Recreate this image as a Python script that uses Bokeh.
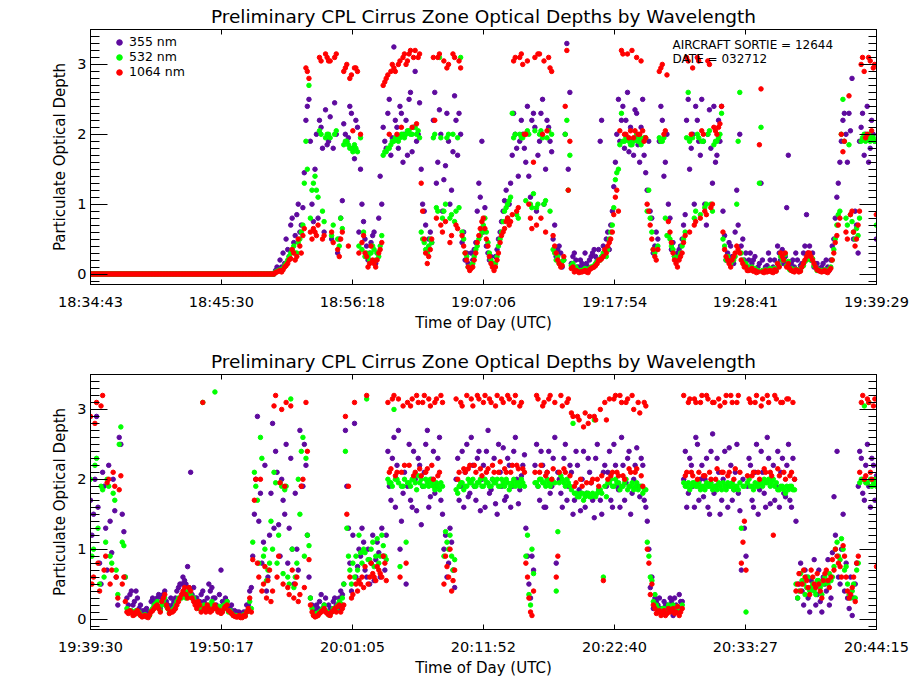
from bokeh.plotting import figure
from bokeh.layouts import column
from bokeh.models import (Range1d, LinearAxis, FixedTicker, SingleIntervalTicker,
                          Legend, LegendItem, Label)
from bokeh.embed import file_html
from bokeh.resources import INLINE

FONT = "DejaVu Sans"
TITLE = "Preliminary CPL Cirrus Zone Optical Depths by Wavelength"
C355, C532, C1064 = "#5e0a9e", "#00ff00", "#ff0000"

# sample offsets in seconds from the start of each leg (two interleaved sets)
sec = [0, 15, 30, 45, 60, 75, 90, 105, 120, 135, 150, 165, 180, 195, 210, 225, 240, 255, 270, 285,
       300, 315, 330, 345, 360, 375, 390, 405, 420, 435, 450, 465, 480, 495, 510, 525, 540, 555, 570, 585,
       600, 615, 630, 645, 660, 675, 690, 705, 720, 735, 750, 765, 780, 795, 810, 825, 840, 855, 870, 885,
       900, 915, 930, 945, 960, 975, 990, 1005, 1020, 1035, 1050, 1065, 1080, 1095, 1110, 1125, 1140, 1155, 1170, 1185,
       1200, 1215, 1230, 1245, 1260, 1275, 1290, 1305, 1320, 1335, 1350, 1365, 1380, 1395, 1410, 1425, 1440, 1455, 1470, 1485,
       1500, 1515, 1530, 1545, 1560, 1575, 1590, 1605, 1620, 1635, 1650, 1665, 1680, 1695, 1710, 1725, 1740, 1755, 1770, 1785,
       1800, 1815, 1830, 1845, 1860, 1875, 1890, 1905, 1920, 1935, 1950, 1965, 1980, 1995, 2010, 2025, 2040, 2055, 2070, 2085,
       2100, 2115, 2130, 2145, 2160, 2175, 2190, 2205, 2220, 2235, 2250, 2265, 2280, 2295, 2310, 2325, 2340, 2355, 2370, 2385,
       2400, 2415, 2430, 2445, 2460, 2475, 2490, 2505, 2520, 2535, 2550, 2565, 2580, 2595, 2610, 2625, 2640, 2655, 2670, 2685,
       2700, 2715, 2730, 2745, 2760, 2775, 2790, 2805, 2820, 2835, 2850, 2865, 2880, 2895, 2910, 2925, 2940, 2955, 2970, 2985,
       3000, 3015, 3030, 3045, 3060, 3075, 3090, 3105, 3120, 3135, 3150, 3165, 3180, 3195, 3210, 3225, 3240, 3255, 3270, 3285,
       3300, 3315, 3330, 3345, 3360, 3375, 3390, 3405, 3420, 3435, 3450, 3465, 3480, 3495, 3510, 3525, 3540, 3555, 3570, 3585,
       3600, 3615, 3630, 3645, 3660, 3675, 3690, 3705, 3720, 3735, 3750, 3765, 3780, 3795, 3810, 3825, 3840, 3855, 3870, 3885]

sec_b = [7, 22, 37, 52, 67, 82, 97, 112, 127, 142, 157, 172, 187, 202, 217, 232, 247, 262, 277, 292,
         307, 322, 337, 352, 367, 382, 397, 412, 427, 442, 457, 472, 487, 502, 517, 532, 547, 562, 577, 592,
         607, 622, 637, 652, 667, 682, 697, 712, 727, 742, 757, 772, 787, 802, 817, 832, 847, 862, 877, 892,
         907, 922, 937, 952, 967, 982, 997, 1012, 1027, 1042, 1057, 1072, 1087, 1102, 1117, 1132, 1147, 1162, 1177, 1192,
         1207, 1222, 1237, 1252, 1267, 1282, 1297, 1312, 1327, 1342, 1357, 1372, 1387, 1402, 1417, 1432, 1447, 1462, 1477, 1492,
         1507, 1522, 1537, 1552, 1567, 1582, 1597, 1612, 1627, 1642, 1657, 1672, 1687, 1702, 1717, 1732, 1747, 1762, 1777, 1792,
         1807, 1822, 1837, 1852, 1867, 1882, 1897, 1912, 1927, 1942, 1957, 1972, 1987, 2002, 2017, 2032, 2047, 2062, 2077, 2092,
         2107, 2122, 2137, 2152, 2167, 2182, 2197, 2212, 2227, 2242, 2257, 2272, 2287, 2302, 2317, 2332, 2347, 2362, 2377, 2392,
         2407, 2422, 2437, 2452, 2467, 2482, 2497, 2512, 2527, 2542, 2557, 2572, 2587, 2602, 2617, 2632, 2647, 2662, 2677, 2692,
         2707, 2722, 2737, 2752, 2767, 2782, 2797, 2812, 2827, 2842, 2857, 2872, 2887, 2902, 2917, 2932, 2947, 2962, 2977, 2992,
         3007, 3022, 3037, 3052, 3067, 3082, 3097, 3112, 3127, 3142, 3157, 3172, 3187, 3202, 3217, 3232, 3247, 3262, 3277, 3292,
         3307, 3322, 3337, 3352, 3367, 3382, 3397, 3412, 3427, 3442, 3457, 3472, 3487, 3502, 3517, 3532, 3547, 3562, 3577, 3592,
         3607, 3622, 3637, 3652, 3667, 3682, 3697, 3712, 3727, 3742, 3757, 3772, 3787, 3802, 3817, 3832, 3847, 3862, 3877]

# ---- leg 1: 18:34:43 - 19:39:29
top_ticks = [0, 647, 1295, 1943, 2591, 3238, 3886]
top_tick_labels = ["18:34:43", "18:45:30", "18:56:18", "19:07:06", "19:17:54", "19:28:41", "19:39:29"]

top_1064 = [0, 0, 0, 0, 0, 0, 0, 0, 0, 0, 0, 0, 0, 0, 0, 0, 0, 0, 0, 0,
            0, 0, 0, 0, 0, 0, 0, 0, 0, 0, 0, 0, 0, 0, 0, 0, 0, 0, 0, 0,
            0, 0, 0, 0, 0, 0, 0, 0, 0, 0, 0, 0, 0, 0, 0, 0, 0, 0, 0, 0, 0,
            0.02, 0.04, 0.03, 0.1, 0.15, 0.22, 0.3, 0.25, 0.4, 0.55,
            2.95, 2.8, 0.5, 0.6, 0.7, 3.05, 0.55, 3.1, 3.05, 0.45,
            3.15, 0.25, 0.6, 2.95, 0.4, 2.85, 2.95, 2.9, 2.0, 0.55,
            0.25, 0.15, 0.2, 0.1, 0.3, 0.45, 2.75, 2.85, 2.9, 2.95,
            2.0, 3.05, 3.1, 3.0, 3.15, 2.1, 3.2, 3.1, 1.3, 0.5,
            0.15, 0.35, 3.1, 0.8, 3.15, 0.6, 0.75, 3.0, 0.55, 3.1,
            0.65, 2.95, 0.4, 0.2, 0.05, 0.1, 0.3, 0.55, 0.75, 0.65,
            0.4, 0.15, 0.05, 0.2, 0.45, 0.6, 0.75, 0.7, 0.85, 3.1,
            0.95, 3.15, 2.0, 3.05, 0.8, 1.6, 0.7, 3.15, 2.0, 0.6,
            3.1, 2.9, 0.4, 0.2, 0.1, 0.25, 3.2, 1.9, 0.1, 0.05,
            0.02, 0.03, 0.05, 0.02, 0.08, 0.1, 0.15, 0.2, 0.25, 0.3,
            0.45, 0.6, 1.1, 0.9, 3.2, 2.0, 3.15, 2.05, 1.95, 3.1,
            2.0, 2.05, 1.95, 0.9, 0.5, 0.25, 0.35, 2.95, 2.0, 2.85,
            0.6, 0.3, 0.15, 0.2, 0.3, 0.55, 3.05, 2.0, 0.7, 3.1,
            0.8, 2.0, 0.85, 3.0, 1.0, 2.05, 2.1, 2.4, 0.35, 0.2,
            0.1, 0.25, 0.4, 0.3, 0.15, 0.1, 0.05, 0.08, 0.05, 0.03,
            2.65, 0.02, 0.03, 0.05, 0.02, 0.04, 0.1, 0.25, 0.3, 0.15,
            0.05, 0.03, 0.05, 0.04, 0.15, 0.25, 0.3, 0.2, 0.1, 0.05,
            0.03, 0.05, 0.02, 0.08, 0.3, 0.55, 0.8, 1.75, 0.6, 2.55,
            0.9, 0.4, 0.7, 3.0, 2.9, 2.0, 3.05, 2.95, 0.85]

top_1064_b = [0, 0, 0, 0, 0, 0, 0, 0, 0, 0, 0, 0, 0, 0, 0, 0, 0, 0, 0, 0,
              0, 0, 0, 0, 0, 0, 0, 0, 0, 0, 0, 0, 0, 0, 0, 0, 0, 0, 0, 0,
              0, 0, 0, 0, 0, 0, 0, 0, 0, 0, 0, 0, 0, 0, 0, 0, 0, 0, 0, 0, 0,
              0.03, 0.05, 0.06, 0.12, 0.2, 0.35, 0.2, 0.5, 0.3, 0.65,
              2.9, 0.6, 0.65, 0.55, 3.1, 0.5, 3.15, 3.05, 0.6, 3.1,
              0.35, 0.5, 2.9, 3.0, 2.8, 2.05, 2.95, 0.3, 0.45, 0.3,
              0.1, 0.4, 0.15, 0.2, 0.35, 2.7, 2.8, 2.0, 3.0, 2.9,
              3.0, 2.1, 3.15, 3.05, 3.2, 3.1, 2.15, 3.15, 0.9, 0.3,
              0.25, 0.5, 2.2, 3.1, 0.7, 3.05, 2.95, 0.45, 3.15, 0.7,
              3.05, 0.55, 0.3, 0.1, 0.08, 0.2, 0.45, 0.65, 0.8, 0.5,
              0.25, 0.1, 0.1, 0.3, 0.55, 0.65, 0.8, 0.75, 3.05, 0.9,
              3.1, 3.0, 2.0, 1.0, 0.65, 3.1, 3.15, 0.8, 3.05, 2.05,
              2.95, 0.55, 0.3, 0.15, 0.12, 2.4, 1.2, 0.08, 0.03, 0.04,
              0.03, 0.04, 0.03, 0.06, 0.09, 0.12, 0.2, 0.22, 0.35, 0.4,
              0.5, 0.85, 1.2, 2.05, 3.15, 2.0, 1.95, 3.2, 2.05, 2.0,
              3.05, 1.9, 1.0, 0.7, 0.35, 0.2, 2.9, 3.0, 2.05, 0.75,
              0.45, 0.2, 0.1, 0.25, 0.45, 3.1, 0.6, 2.95, 0.75, 3.05,
              2.05, 0.9, 3.05, 0.95, 2.1, 2.0, 2.15, 0.6, 0.25, 0.15,
              0.2, 0.3, 0.35, 0.2, 0.1, 0.05, 0.06, 0.04, 0.02, 1.85,
              0.03, 0.05, 0.04, 0.03, 0.06, 0.15, 0.3, 0.2, 0.1, 0.08,
              0.04, 0.06, 0.03, 0.1, 0.2, 0.3, 0.25, 0.15, 0.06, 0.04,
              0.04, 0.03, 0.05, 0.2, 0.45, 0.7, 2.0, 1.9, 0.5, 0.85,
              0.6, 0.5, 0.9, 3.1, 1.95, 3.1, 2.05, 3.0]

top_355 = [0, 0, 0, 0, 0, 0, 0, 0, 0, 0, 0, 0, 0, 0, 0, 0, 0, 0, 0, 0,
           0, 0, 0, 0, 0, 0, 0, 0, 0, 0, 0, 0, 0, 0, 0, 0, 0, 0, 0, 0,
           0, 0, 0, 0, 0, 0, 0, 0, 0, 0, 0, 0, 0, 0, 0, 0, 0, 0, 0, 0, 0,
           0.05, 0.08, 0.1, 0.15, 0.35, 0.7, 0.45, 0.85, 0.6, 0.95,
           2.2, 2.5, 1.0, 1.5, 0.8, 2.1, 0.6, 1.85, 2.25, 1.8,
           2.0, 0.5, 1.05, 2.0, 1.95, 2.3, 1.65, 2.1, 1.5, 0.75,
           0.4, 0.3, 0.55, 0.15, 0.8, 1.0, 1.9, 2.3, 1.7, 3.25,
           2.1, 2.4, 1.6, 2.2, 2.5, 1.75, 2.9, 2.0, 1.5, 0.9,
           0.35, 0.6, 2.2, 1.3, 2.35, 0.9, 1.55, 1.9, 1.2, 2.55,
           1.7, 2.0, 0.6, 0.3, 0.1, 0.2, 0.45, 1.3, 1.9, 0.95,
           0.3, 0.25, 0.1, 0.35, 0.6, 0.9, 1.2, 1.0, 1.7, 2.0,
           1.4, 2.2, 1.8, 2.4, 1.1, 2.3, 0.9, 1.9, 2.5, 1.5,
           2.1, 1.75, 0.7, 0.35, 0.3, 0.2, 3.3, 2.6, 0.25, 0.2,
           0.1, 0.15, 0.3, 0.1, 0.25, 0.35, 0.2, 1.9, 0.4, 0.5,
           0.35, 0.9, 1.6, 2.5, 2.2, 1.8, 2.6, 2.1, 1.7, 2.3,
           1.6, 2.5, 1.45, 1.9, 0.8, 0.4, 0.5, 2.4, 1.4, 2.0,
           0.8, 0.45, 0.2, 0.35, 0.5, 0.85, 2.5, 1.8, 1.0, 2.2,
           1.7, 1.9, 0.7, 2.35, 1.3, 1.6, 2.2, 2.4, 0.55, 0.3,
           0.4, 0.15, 1.2, 2.0, 0.5, 0.3, 0.2, 0.15, 0.25, 0.1,
           1.3, 0.05, 0.12, 0.2, 0.1, 0.08, 0.3, 0.35, 0.25, 1.7,
           0.15, 0.1, 0.2, 0.12, 0.3, 0.85, 0.4, 0.3, 0.15, 0.08,
           0.1, 0.05, 0.1, 0.2, 0.5, 1.1, 1.6, 2.2, 2.0, 2.3,
           2.8, 0.9, 0.3, 2.1, 1.7, 2.4, 1.8, 2.0, 0.5]

top_355_b = [0, 0, 0, 0, 0, 0, 0, 0, 0, 0, 0, 0, 0, 0, 0, 0, 0, 0, 0, 0,
             0, 0, 0, 0, 0, 0, 0, 0, 0, 0, 0, 0, 0, 0, 0, 0, 0, 0, 0, 0,
             0, 0, 0, 0, 0, 0, 0, 0, 0, 0, 0, 0, 0, 0, 0, 0, 0, 0, 0, 0, 0,
             0.1, 0.2, 0.3, 0.5, 0.25, 0.8, 0.55, 1.0, 0.7, 1.45,
             2.4, 1.9, 0.75, 2.0, 2.2, 1.8, 2.35, 1.9, 0.5, 2.45,
             0.3, 0.8, 2.15, 1.9, 2.4, 1.8, 2.2, 0.6, 1.0, 0.5,
             0.2, 0.45, 0.6, 0.3, 1.4, 2.1, 1.8, 2.5, 1.95, 2.2,
             1.8, 2.3, 2.0, 1.7, 2.6, 2.1, 1.9, 2.45, 1.0, 0.7,
             0.5, 0.45, 2.6, 1.6, 2.0, 1.35, 2.3, 1.0, 1.75, 2.2,
             2.3, 0.45, 0.2, 0.15, 0.3, 0.35, 0.9, 1.1, 0.6, 0.4,
             0.2, 0.15, 0.25, 0.5, 0.75, 1.05, 0.8, 1.3, 2.3, 1.8,
             1.9, 2.0, 1.6, 1.4, 2.2, 2.1, 1.7, 2.3, 1.0, 2.2,
             1.9, 0.5, 0.25, 0.4, 0.1, 2.0, 1.5, 0.15, 0.3, 0.1,
             0.2, 0.1, 0.15, 0.2, 0.3, 0.25, 0.35, 2.2, 0.3, 0.6,
             0.7, 1.25, 2.0, 1.9, 2.4, 2.2, 1.75, 1.9, 2.35, 1.85,
             2.1, 1.7, 1.2, 0.9, 0.3, 0.6, 1.9, 2.2, 1.6, 1.0,
             0.35, 0.25, 0.3, 0.4, 0.7, 2.2, 1.5, 2.0, 2.4, 1.9,
             2.5, 1.0, 2.0, 1.8, 2.4, 1.7, 1.9, 0.9, 0.2, 0.45,
             0.25, 0.6, 0.7, 0.4, 0.2, 0.1, 0.3, 0.2, 0.05, 0.15,
             0.2, 0.1, 0.3, 0.05, 0.2, 0.4, 0.2, 0.15, 0.95, 0.1,
             0.2, 0.3, 0.05, 0.15, 0.4, 0.3, 0.2, 0.1, 0.15, 0.05,
             0.15, 0.2, 0.05, 0.4, 0.8, 1.3, 1.9, 2.3, 1.6, 2.05,
             0.5, 0.7, 1.9, 2.3, 2.0, 1.6, 2.2, 1.9]

top_532 = [0, 0, 0, 0, 0, 0, 0, 0, 0, 0, 0, 0, 0, 0, 0, 0, 0, 0, 0, 0,
           0, 0, 0, 0, 0, 0, 0, 0, 0, 0, 0, 0, 0, 0, 0, 0, 0, 0, 0, 0,
           0, 0, 0, 0, 0, 0, 0, 0, 0, 0, 0, 0, 0, 0, 0, 0, 0, 0, 0, 0, 0,
           0.03, 0.05, 0.04, 0.12, 0.2, 0.3, 0.4, 0.3, 0.5, 0.7,
           1.9, 2.7, 1.2, 1.4, 1.1, 2.0, 0.75, 2.0, 1.95, 0.7,
           2.05, 0.4, 0.65, 1.9, 1.85, 1.8, 1.85, 1.75, 1.95, 0.6,
           0.3, 0.2, 0.4, 0.2, 0.25, 0.55, 1.75, 1.8, 1.85, 1.9,
           1.95, 1.95, 2.0, 2.0, 2.05, 2.0, 2.1, 2.05, 0.6, 0.45,
           0.3, 0.5, 1.95, 0.95, 3.1, 0.8, 1.0, 2.0, 0.85, 0.75,
           1.95, 3.1, 0.5, 0.25, 0.08, 0.15, 0.35, 0.5, 0.6, 0.8,
           0.45, 0.2, 0.1, 0.25, 0.5, 0.75, 0.95, 1.05, 2.3, 2.0,
           0.8, 1.95, 2.0, 2.05, 1.0, 1.15, 0.95, 2.0, 1.95, 1.05,
           2.05, 2.0, 0.3, 0.25, 0.15, 0.2, 2.2, 1.7, 0.15, 0.1,
           0.05, 0.05, 0.08, 0.04, 0.1, 0.12, 0.18, 0.2, 0.3, 0.25,
           0.5, 0.7, 1.35, 1.5, 2.3, 1.9, 1.95, 1.85, 1.9, 2.0,
           1.95, 1.9, 1.95, 1.2, 0.6, 0.3, 0.4, 1.9, 1.95, 0.55,
           0.5, 0.35, 0.2, 0.25, 0.4, 0.6, 2.6, 1.95, 0.8, 2.0,
           0.85, 1.9, 1.0, 2.05, 0.9, 1.9, 1.95, 2.3, 0.4, 0.25,
           0.15, 0.2, 1.0, 2.6, 0.2, 0.15, 0.1, 0.1, 0.08, 0.05,
           2.1, 0.04, 0.05, 0.08, 0.04, 0.05, 0.12, 0.2, 0.28, 0.18,
           0.08, 0.05, 0.06, 0.05, 0.12, 0.2, 0.25, 0.22, 0.1, 0.06,
           0.05, 0.06, 0.04, 0.1, 0.35, 0.7, 0.9, 2.5, 0.8, 1.85,
           0.75, 0.5, 0.55, 1.9, 2.0, 1.95, 1.9, 1.95, 0.7]

top_532_b = [0, 0, 0, 0, 0, 0, 0, 0, 0, 0, 0, 0, 0, 0, 0, 0, 0, 0, 0, 0,
             0, 0, 0, 0, 0, 0, 0, 0, 0, 0, 0, 0, 0, 0, 0, 0, 0, 0, 0, 0,
             0, 0, 0, 0, 0, 0, 0, 0, 0, 0, 0, 0, 0, 0, 0, 0, 0, 0, 0, 0, 0,
             0.04, 0.06, 0.08, 0.15, 0.25, 0.35, 0.3, 0.45, 0.6, 1.3,
             1.5, 0.8, 1.3, 1.2, 2.05, 0.9, 1.95, 2.0, 0.55, 2.0,
             0.5, 0.8, 1.85, 1.9, 1.8, 1.75, 1.8, 0.4, 0.35, 0.25,
             0.25, 0.3, 0.35, 0.3, 0.4, 1.7, 1.75, 1.8, 1.9, 1.95,
             1.9, 2.0, 1.95, 2.05, 2.0, 2.1, 2.0, 1.95, 0.5, 0.35,
             0.4, 0.45, 2.0, 0.9, 1.95, 0.9, 1.95, 0.8, 2.0, 0.9,
             0.95, 0.6, 0.3, 0.1, 0.12, 0.25, 0.4, 0.55, 0.7, 0.6,
             0.3, 0.15, 0.15, 0.4, 0.6, 0.9, 1.0, 1.1, 1.95, 0.85,
             2.0, 1.95, 1.05, 2.0, 0.95, 2.05, 1.0, 2.05, 1.0, 1.95,
             0.9, 0.35, 0.2, 0.15, 0.18, 2.0, 1.2, 0.12, 0.08, 0.06,
             0.05, 0.06, 0.05, 0.08, 0.1, 0.15, 0.2, 0.25, 0.28, 0.35,
             0.6, 0.95, 1.45, 1.85, 1.9, 1.95, 1.9, 1.85, 1.95, 1.9,
             1.85, 1.95, 0.9, 0.8, 0.35, 0.35, 1.95, 1.9, 0.8, 0.55,
             0.4, 0.25, 0.2, 0.3, 0.5, 1.95, 1.9, 1.95, 0.9, 1.95,
             1.9, 0.95, 2.0, 1.0, 1.85, 1.9, 2.0, 0.5, 0.2, 0.2,
             0.2, 0.25, 1.9, 0.3, 0.15, 0.1, 0.08, 0.06, 0.05, 1.3,
             0.05, 0.06, 0.05, 0.06, 0.08, 0.15, 0.25, 0.2, 0.12, 0.06,
             0.05, 0.07, 0.04, 0.1, 0.18, 0.28, 0.2, 0.12, 0.05, 0.05,
             0.04, 0.05, 0.07, 0.2, 0.5, 0.85, 2.0, 1.9, 0.7, 0.85,
             0.6, 0.65, 0.8, 1.95, 1.9, 2.0, 1.95, 1.9]

# ---- leg 2: 19:39:30 - 20:44:15
bot_ticks = [0, 647, 1295, 1942, 2590, 3237, 3885]
bot_tick_labels = ["19:39:30", "19:50:17", "20:01:05", "20:11:52", "20:22:40", "20:33:27", "20:44:15"]

bot_1064 = [2.9, 0.6, 3.1, 0.4, 3.2, 0.9, 2.0, 0.7, 1.9, 0.3,
            2.05, 0.6, 0.1, 0.12, 0.05, 0.1, 0.08, 0.03, 0.05, 0.02,
            0.1, 0.15, 0.2, 0.1, 0.3, 0.2, 0.08, 0.1, 0.15, 0.25,
            0.35, 0.45, 0.3, 0.4, 0.25, 0.15, 0.2, 3.1, 0.1, 0.15,
            0.12, 0.2, 0.1, 0.08, 0.15, 0.2, 0.1, 0.05, 0.03, 0.05,
            0.02, 0.04, 0.15, 0.1, 1.7, 0.8, 2.0, 0.5, 0.3, 0.7,
            0.4, 3.2, 0.9, 3.0, 1.9, 0.45, 3.05, 0.3, 0.6, 0.35,
            2.0, 3.1, 0.85, 0.1, 0.03, 0.05, 0.1, 0.15, 0.08, 0.05,
            0.12, 0.1, 0.2, 0.15, 2.9, 1.9, 0.3, 3.1, 0.4, 0.5,
            0.45, 3.2, 0.6, 0.65, 0.55, 0.7, 0.6, 0.8, 3.1, 2.15,
            3.2, 2.1, 0.6, 3.05, 0.8, 2.2, 3.15, 2.1, 3.1, 2.05,
            3.2, 2.15, 3.05, 2.0, 3.15, 2.1, 3.1, 0.9, 0.6, 0.4,
            0.7, 2.0, 3.1, 2.15, 3.2, 2.2, 3.05, 2.1, 3.15, 2.05,
            3.2, 2.15, 3.1, 2.1, 3.2, 2.25, 3.1, 2.1, 3.15, 2.2,
            3.2, 2.15, 3.1, 2.1, 0.6, 0.1, 0.4, 3.2, 2.1, 3.05,
            2.05, 3.15, 2.0, 3.1, 0.9, 3.2, 2.15, 3.1, 2.05, 2.9,
            1.95, 2.85, 1.9, 2.95, 2.8, 1.95, 2.9, 2.0, 3.0, 0.55,
            2.85, 3.15, 2.1, 3.2, 2.05, 3.1, 2.0, 3.15, 2.1, 3.0,
            2.15, 2.95, 1.9, 3.05, 0.8, 0.5, 0.15, 0.1, 0.05, 0.12,
            0.08, 0.1, 0.15, 0.1, 0.05, 0.15, 2.05, 3.1, 2.1, 3.15,
            2.0, 3.1, 2.05, 3.2, 2.1, 3.1, 2.0, 3.15, 2.1, 3.1,
            2.05, 3.2, 2.0, 3.1, 2.1, 1.1, 0.7, 3.15, 2.05, 3.1,
            2.1, 3.05, 2.15, 3.2, 2.1, 1.2, 3.15, 2.05, 3.1, 2.0,
            3.15, 2.1, 2.0, 0.5, 0.4, 0.7, 0.55, 0.35, 0.6, 0.45,
            0.5, 0.3, 0.65, 0.55, 0.6, 0.7, 0.9, 0.75, 1.05, 0.6,
            0.3, 0.45, 0.25, 0.9, 3.1, 2.0, 3.15, 2.1, 3.05, 0.75]

bot_1064_b = [0.5, 2.8, 0.8, 3.05, 0.7, 1.95, 0.5, 2.1, 0.6, 1.85,
              0.5, 0.25, 0.08, 0.1, 0.06, 0.12, 0.05, 0.04, 0.03, 0.06,
              0.12, 0.18, 0.15, 0.25, 0.35, 0.15, 0.1, 0.12, 0.2, 0.3,
              0.4, 0.35, 0.45, 0.3, 0.2, 0.25, 0.1, 0.15, 0.2, 0.1,
              0.15, 0.15, 0.12, 0.1, 0.18, 0.12, 0.08, 0.04, 0.03, 0.02,
              0.05, 0.1, 0.3, 0.85, 2.0, 0.6, 0.4, 0.75, 0.55, 0.25,
              3.05, 0.6, 1.95, 0.5, 3.1, 0.35, 0.7, 0.5, 0.25, 1.9,
              0.45, 2.4, 0.2, 0.05, 0.04, 0.08, 0.12, 0.1, 0.06, 0.1,
              0.15, 0.18, 0.1, 0.2, 1.5, 0.6, 0.35, 0.5, 0.55, 0.6,
              0.75, 0.5, 0.8, 0.6, 0.75, 0.65, 0.9, 0.55, 2.1, 3.15,
              2.05, 3.15, 2.1, 2.2, 3.1, 3.05, 2.05, 3.2, 2.15, 3.1,
              2.1, 3.15, 2.2, 3.1, 2.05, 3.2, 0.5, 0.75, 1.0, 0.55,
              3.15, 2.1, 3.05, 2.1, 2.15, 3.15, 2.2, 3.2, 2.15, 3.1,
              2.1, 3.15, 2.2, 3.05, 2.1, 3.15, 2.15, 3.2, 2.1, 3.1,
              2.2, 3.05, 2.15, 0.8, 0.3, 0.05, 2.1, 3.15, 2.2, 3.1,
              2.1, 3.2, 2.15, 0.6, 2.1, 3.05, 2.1, 3.15, 2.95, 1.9,
              2.9, 2.0, 2.75, 1.95, 2.9, 2.0, 2.85, 1.9, 2.05, 3.1,
              2.0, 2.05, 3.15, 2.1, 3.2, 2.05, 3.1, 2.15, 3.2, 2.1,
              3.1, 2.05, 3.1, 1.0, 0.35, 0.2, 0.08, 0.12, 0.1, 0.05,
              0.15, 0.12, 0.08, 0.18, 0.1, 3.2, 2.1, 3.15, 2.05, 3.1,
              2.1, 3.2, 2.05, 3.15, 2.0, 3.1, 2.15, 3.05, 2.1, 3.2,
              2.1, 3.1, 2.15, 3.2, 0.8, 1.4, 2.05, 3.1, 2.1, 3.2,
              2.0, 3.15, 2.1, 3.1, 2.05, 3.2, 2.15, 3.1, 2.1, 3.15,
              2.05, 3.1, 0.4, 0.65, 0.5, 0.6, 0.45, 0.7, 0.5, 0.65,
              0.4, 0.55, 0.7, 0.45, 0.85, 1.0, 0.8, 0.6, 0.9, 0.4,
              0.35, 0.6, 0.8, 2.1, 3.2, 2.05, 3.1, 2.0, 3.15]

bot_355 = [1.7, 1.5, 2.9, 0.8, 2.1, 1.3, 2.2, 0.95, 1.55, 0.2,
           2.5, 1.25, 0.3, 0.35, 0.2, 0.4, 0.15, 0.1, 0.12, 0.08,
           0.25, 0.2, 0.3, 0.15, 0.35, 0.25, 0.15, 0.2, 0.3, 0.45,
           0.5, 0.55, 0.75, 2.1, 0.45, 0.3, 0.25, 0.4, 0.2, 0.5,
           0.45, 0.3, 0.15, 0.7, 0.2, 0.25, 0.15, 0.1, 0.08, 0.1,
           0.06, 0.1, 0.2, 0.45, 1.5, 2.9, 1.8, 1.1, 0.4, 1.2,
           2.8, 2.4, 1.35, 2.0, 1.5, 0.8, 2.3, 0.5, 1.0, 2.7,
           1.9, 2.2, 0.6, 0.2, 0.1, 0.15, 0.35, 0.2, 0.1, 0.15,
           0.25, 0.2, 0.3, 0.35, 2.7, 1.3, 0.4, 2.8, 0.75, 0.9,
           1.1, 0.6, 0.5, 1.2, 0.85, 0.95, 1.3, 0.7, 2.4, 1.7,
           2.6, 2.2, 1.0, 1.8, 0.5, 2.5, 1.6, 2.0, 2.3, 1.35,
           2.1, 2.7, 1.75, 2.4, 1.9, 2.6, 1.5, 1.2, 0.8, 1.1,
           0.45, 2.3, 1.9, 1.6, 2.5, 1.8, 2.2, 1.7, 2.4, 2.0,
           1.6, 2.7, 1.85, 2.3, 1.5, 2.1, 2.45, 1.75, 2.2, 1.9,
           2.6, 1.65, 2.05, 2.35, 0.9, 0.3, 0.7, 2.5, 1.7, 2.2,
           1.6, 2.4, 1.9, 2.6, 2.1, 1.8, 2.3, 1.7, 2.2, 1.5,
           2.4, 1.85, 2.0, 1.6, 2.3, 1.95, 1.45, 2.5, 1.7, 2.1,
           1.9, 2.4, 1.6, 2.2, 1.85, 2.6, 1.7, 2.3, 1.5, 2.0,
           2.45, 1.75, 2.2, 1.6, 1.0, 0.6, 0.3, 0.2, 0.15, 0.25,
           0.2, 0.3, 0.05, 0.2, 0.35, 0.25, 2.4, 1.8, 2.2, 1.6,
           2.5, 2.0, 1.75, 2.3, 1.5, 2.65, 1.9, 2.1, 1.7, 2.4,
           1.6, 2.2, 1.85, 2.5, 1.55, 2.0, 0.9, 2.3, 1.7, 2.1,
           1.5, 2.4, 1.8, 2.6, 1.65, 2.2, 1.9, 1.6, 2.3, 1.75,
           2.5, 1.6, 2.0, 0.3, 0.8, 0.2, 0.6, 0.1, 0.45, 0.2,
           0.7, 0.1, 0.5, 0.85, 0.3, 1.75, 2.4, 0.5, 1.5, 0.8,
           0.15, 0.05, 0.5, 1.9, 2.3, 1.7, 2.5, 1.6, 2.2, 2.05]

bot_355_b = [1.2, 2.0, 1.6, 0.5, 1.9, 0.7, 1.4, 2.0, 0.6, 2.6,
             1.5, 0.6, 0.2, 0.4, 0.25, 0.3, 0.2, 0.12, 0.15, 0.1,
             0.3, 0.25, 0.35, 0.3, 0.4, 0.2, 0.3, 0.25, 0.4, 0.5,
             0.6, 0.5, 0.45, 0.35, 0.3, 0.2, 0.35, 0.25, 0.3, 0.4,
             0.3, 0.2, 0.35, 0.25, 0.3, 0.15, 0.2, 0.12, 0.1, 0.08,
             0.1, 0.2, 0.4, 0.9, 2.0, 1.4, 0.8, 2.2, 0.6, 1.8,
             1.3, 2.1, 0.9, 1.7, 2.5, 1.3, 1.0, 1.8, 0.7, 1.9,
             2.5, 1.2, 0.3, 0.15, 0.2, 0.25, 0.15, 0.3, 0.2, 0.1,
             0.3, 0.15, 0.4, 0.5, 1.9, 0.8, 1.2, 0.6, 1.0, 1.3,
             0.7, 1.0, 0.8, 0.55, 1.1, 0.6, 0.9, 1.2, 1.9, 2.3,
             1.6, 2.7, 1.4, 2.1, 1.9, 1.7, 2.4, 1.55, 2.2, 1.9,
             2.5, 1.6, 2.0, 1.8, 2.3, 1.7, 1.0, 0.6, 1.3, 0.7,
             2.0, 1.7, 2.4, 2.1, 1.75, 2.6, 1.9, 2.3, 1.55, 2.2,
             2.4, 1.8, 2.0, 1.65, 2.5, 1.9, 1.7, 2.3, 1.6, 2.4,
             2.0, 1.85, 2.2, 1.3, 0.5, 0.9, 2.2, 1.9, 2.4, 1.6,
             2.1, 1.8, 2.3, 0.8, 2.0, 1.6, 2.5, 1.9, 2.1, 1.7,
             2.2, 1.55, 2.4, 1.8, 2.1, 1.7, 2.3, 1.85, 1.5, 2.2,
             2.1, 1.7, 2.5, 1.9, 1.6, 2.2, 1.95, 2.4, 1.8, 2.2,
             1.9, 2.3, 1.7, 1.4, 0.45, 0.15, 0.25, 0.3, 0.1, 0.2,
             0.15, 0.25, 0.3, 0.1, 0.25, 2.0, 1.6, 2.3, 1.9, 2.6,
             1.7, 2.2, 2.0, 1.6, 2.4, 1.8, 2.3, 1.5, 2.0, 1.9,
             2.45, 1.7, 2.1, 1.8, 0.7, 1.3, 1.9, 2.2, 1.6, 2.5,
             1.85, 2.1, 1.6, 2.3, 2.0, 1.7, 2.4, 2.1, 1.8, 2.2,
             1.7, 2.3, 1.4, 0.5, 0.4, 0.7, 0.3, 0.55, 0.85, 0.35,
             0.25, 0.6, 0.4, 0.2, 0.95, 1.2, 0.6, 1.0, 0.4, 0.3,
             0.6, 0.3, 0.8, 2.4, 1.8, 2.2, 1.9, 2.3, 1.7]

bot_532 = [2.0, 1.0, 2.3, 0.5, 1.85, 1.1, 1.9, 0.8, 1.7, 0.35,
           2.75, 1.05, 0.15, 0.1, 0.08, 0.12, 0.1, 0.05, 0.06, 0.04,
           0.12, 0.2, 0.25, 0.12, 0.25, 0.18, 0.1, 0.12, 0.2, 0.3,
           0.3, 0.4, 0.35, 0.35, 0.3, 0.2, 0.15, 3.1, 0.12, 0.2,
           0.25, 3.25, 0.12, 0.1, 0.2, 0.25, 0.12, 0.06, 0.05, 0.04,
           0.03, 0.05, 0.12, 0.15, 2.1, 1.7, 2.6, 0.9, 0.55, 0.8,
           1.0, 1.95, 1.2, 1.9, 1.85, 0.6, 3.15, 0.45, 0.8, 1.5,
           2.6, 2.3, 1.05, 0.15, 0.05, 0.08, 0.12, 0.2, 0.1, 0.08,
           0.15, 0.12, 0.25, 0.3, 2.4, 0.9, 0.5, 0.6, 0.7, 0.95,
           1.0, 3.15, 0.85, 1.1, 0.9, 0.8, 1.2, 0.9, 2.0, 1.95,
           3.0, 2.0, 0.75, 1.9, 1.1, 1.95, 2.0, 1.95, 2.05, 2.0,
           1.9, 1.95, 2.0, 1.9, 1.95, 1.85, 1.9, 1.25, 1.0, 0.9,
           0.85, 1.8, 1.95, 1.85, 1.9, 1.95, 2.0, 1.9, 1.95, 1.9,
           2.0, 1.95, 1.9, 1.95, 2.0, 1.9, 1.95, 2.0, 1.85, 1.95,
           1.9, 1.95, 2.0, 1.9, 1.2, 0.2, 0.65, 1.95, 2.0, 1.95,
           1.9, 1.95, 2.0, 1.95, 1.25, 2.05, 1.95, 2.0, 1.9, 2.8,
           1.8, 1.75, 1.8, 1.75, 1.8, 1.75, 2.85, 1.8, 1.85, 0.6,
           1.75, 1.95, 1.9, 2.0, 1.95, 1.9, 1.95, 1.85, 1.9, 1.85,
           1.95, 1.9, 1.8, 1.85, 0.9, 0.55, 0.35, 0.15, 0.1, 0.15,
           0.12, 0.15, 0.2, 0.12, 0.1, 0.2, 1.9, 1.95, 1.9, 1.95,
           1.9, 1.85, 1.9, 1.95, 1.9, 1.85, 1.9, 1.95, 1.85, 1.9,
           1.95, 1.9, 1.85, 1.9, 1.95, 1.9, 0.1, 2.0, 1.9, 1.95,
           1.9, 1.95, 2.0, 1.95, 1.9, 2.0, 1.95, 1.85, 1.9, 1.8,
           1.85, 1.9, 1.85, 0.3, 0.65, 0.5, 0.45, 0.4, 0.5, 0.35,
           0.55, 0.35, 0.6, 0.5, 0.55, 0.75, 1.1, 0.85, 1.0, 0.75,
           0.35, 0.4, 0.3, 0.8, 2.0, 3.05, 1.95, 2.0, 1.95, 1.9]

bot_532_b = [0.9, 2.2, 1.3, 1.9, 0.6, 2.0, 0.9, 1.8, 0.7, 2.5,
             1.1, 0.6, 0.1, 0.12, 0.1, 0.08, 0.06, 0.05, 0.04, 0.05,
             0.15, 0.22, 0.18, 0.2, 0.3, 0.15, 0.12, 0.15, 0.25, 0.3,
             0.35, 0.3, 0.4, 0.3, 0.25, 0.2, 0.15, 0.2, 0.15, 0.12,
             0.2, 0.15, 0.18, 0.12, 0.15, 0.1, 0.08, 0.05, 0.04, 0.03,
             0.06, 0.1, 0.25, 1.1, 1.9, 0.8, 2.3, 1.0, 0.7, 1.4,
             2.1, 0.8, 1.95, 0.65, 1.9, 0.5, 1.0, 0.6, 2.0, 2.4,
             0.9, 1.2, 0.3, 0.06, 0.08, 0.1, 0.15, 0.12, 0.06, 0.1,
             0.15, 0.2, 0.22, 0.5, 1.3, 0.7, 0.8, 0.9, 1.2, 0.8,
             0.95, 0.85, 1.0, 0.75, 1.15, 0.9, 1.05, 0.85, 1.95, 1.9,
             2.0, 1.95, 1.9, 2.0, 1.95, 1.9, 2.0, 1.85, 1.95, 1.9,
             2.0, 1.9, 1.95, 1.85, 1.9, 1.95, 0.9, 1.1, 1.2, 0.7,
             1.85, 1.9, 1.95, 1.9, 2.0, 1.95, 1.9, 1.95, 2.0, 1.9,
             1.95, 1.9, 2.0, 1.95, 1.9, 2.0, 1.9, 1.95, 1.9, 2.0,
             1.95, 1.9, 1.95, 0.9, 0.35, 1.0, 1.95, 1.9, 2.0, 1.95,
             2.0, 1.9, 1.95, 0.4, 1.95, 2.0, 1.9, 1.95, 1.85, 1.8,
             1.75, 1.8, 1.7, 1.8, 1.75, 1.8, 1.75, 1.85, 1.8, 1.9,
             1.95, 2.0, 1.9, 1.95, 1.85, 1.9, 2.0, 1.9, 1.95, 1.9,
             1.85, 1.9, 1.85, 1.1, 0.6, 0.25, 0.2, 0.12, 0.15, 0.1,
             0.2, 0.12, 0.15, 0.18, 0.15, 1.95, 1.9, 1.85, 1.95, 1.9,
             1.95, 1.9, 1.85, 1.9, 1.95, 1.9, 1.85, 1.9, 1.95, 1.85,
             1.9, 1.95, 1.9, 1.85, 1.3, 1.9, 1.95, 1.9, 1.85, 1.9,
             1.95, 1.9, 1.95, 2.0, 1.95, 1.9, 1.85, 1.9, 1.85, 1.9,
             1.9, 1.85, 0.5, 0.4, 0.55, 0.35, 0.6, 0.45, 0.4, 0.55,
             0.45, 0.5, 0.55, 0.65, 0.6, 1.0, 0.9, 1.15, 0.7, 0.5,
             0.3, 0.5, 0.7, 1.95, 2.0, 1.95, 3.1, 1.9, 2.0]


def style_axis(ax, tick_in, minor_in):
    ax.axis_line_color = "black"
    ax.major_tick_line_color = "black"
    ax.minor_tick_line_color = "black"
    ax.major_tick_in = tick_in
    ax.major_tick_out = 0
    ax.minor_tick_in = minor_in
    ax.minor_tick_out = 0
    ax.major_label_text_font = FONT
    ax.major_label_text_font_size = "14.5px"
    ax.major_label_text_color = "black"
    ax.axis_label_text_font = FONT
    ax.axis_label_text_font_size = "15px"
    ax.axis_label_text_font_style = "normal"
    ax.axis_label_text_color = "black"


def hide_labels(ax):
    # tick marks only, no numbers (mirrored axis)
    ax.major_label_text_font_size = "0px"
    ax.major_label_text_color = None
    ax.major_label_standoff = 0


def make_panel(v355, v532, v1064, ticks, tick_labels):
    p = figure(width=920, height=345, output_backend="svg", toolbar_location=None,
               title=TITLE,
               x_range=Range1d(0, ticks[-1]), y_range=Range1d(-0.15, 3.5),
               x_axis_location=None, y_axis_location=None,
               min_border_left=90, min_border_right=44,
               min_border_top=29, min_border_bottom=61)
    p.grid.visible = False
    p.outline_line_color = "black"
    p.background_fill_color = "white"
    p.border_fill_color = "white"
    p.title.align = "center"
    p.title.text_font = FONT
    p.title.text_font_size = "18.5px"
    p.title.text_font_style = "normal"
    p.title.text_color = "black"
    p.title.standoff = 5

    yt = SingleIntervalTicker(interval=1, num_minor_ticks=10)
    xt = FixedTicker(ticks=ticks, minor_ticks=[])

    bottom = LinearAxis(ticker=xt, axis_label="Time of Day (UTC)",
                        major_label_overrides=dict(zip(ticks, tick_labels)))
    style_axis(bottom, 5, 0)
    bottom.major_label_standoff = 9
    bottom.axis_label_standoff = 1
    p.add_layout(bottom, "below")

    top = LinearAxis(ticker=xt)
    style_axis(top, 5, 0)
    hide_labels(top)
    p.add_layout(top, "above")

    left = LinearAxis(ticker=yt, axis_label="Particulate Optical Depth")
    style_axis(left, 17, 9)
    left.major_label_standoff = 4
    left.axis_label_standoff = 5
    p.add_layout(left, "left")

    right = LinearAxis(ticker=yt)
    style_axis(right, 17, 8)
    hide_labels(right)
    p.add_layout(right, "right")

    r1 = p.scatter(sec + sec_b, v355, marker="circle", size=4.5, color=C355)
    r2 = p.scatter(sec + sec_b, v532, marker="circle", size=4.5, color=C532)
    r3 = p.scatter(sec + sec_b, v1064, marker="circle", size=4.5, color=C1064)
    return p, (r1, r2, r3)


p1, (a, b, c) = make_panel(top_355 + top_355_b, top_532 + top_532_b, top_1064 + top_1064_b,
                           top_ticks, top_tick_labels)
legend = Legend(items=[LegendItem(label="355 nm", renderers=[a]),
                       LegendItem(label="532 nm", renderers=[b]),
                       LegendItem(label="1064 nm", renderers=[c])],
                location=(22, 205), padding=0, margin=0, spacing=0,
                glyph_width=14, glyph_height=14, label_height=14, label_standoff=3,
                label_text_font=FONT, label_text_font_size="12.5px", label_text_color="black",
                border_line_color=None, background_fill_alpha=0)
p1.add_layout(legend)
for yy, txt in [(240, "AIRCRAFT SORTIE = 12644"), (226, "DATE = 032712")]:
    p1.add_layout(Label(x=582, y=yy, x_units="screen", y_units="screen", text=txt,
                        text_baseline="middle", text_font=FONT, text_font_size="12px",
                        text_color="black"))

p2, _ = make_panel(bot_355 + bot_355_b, bot_532 + bot_532_b, bot_1064 + bot_1064_b,
                   bot_ticks, bot_tick_labels)

layout = column(p1, p2)
open("out.html", "w").write(file_html(layout, INLINE))
